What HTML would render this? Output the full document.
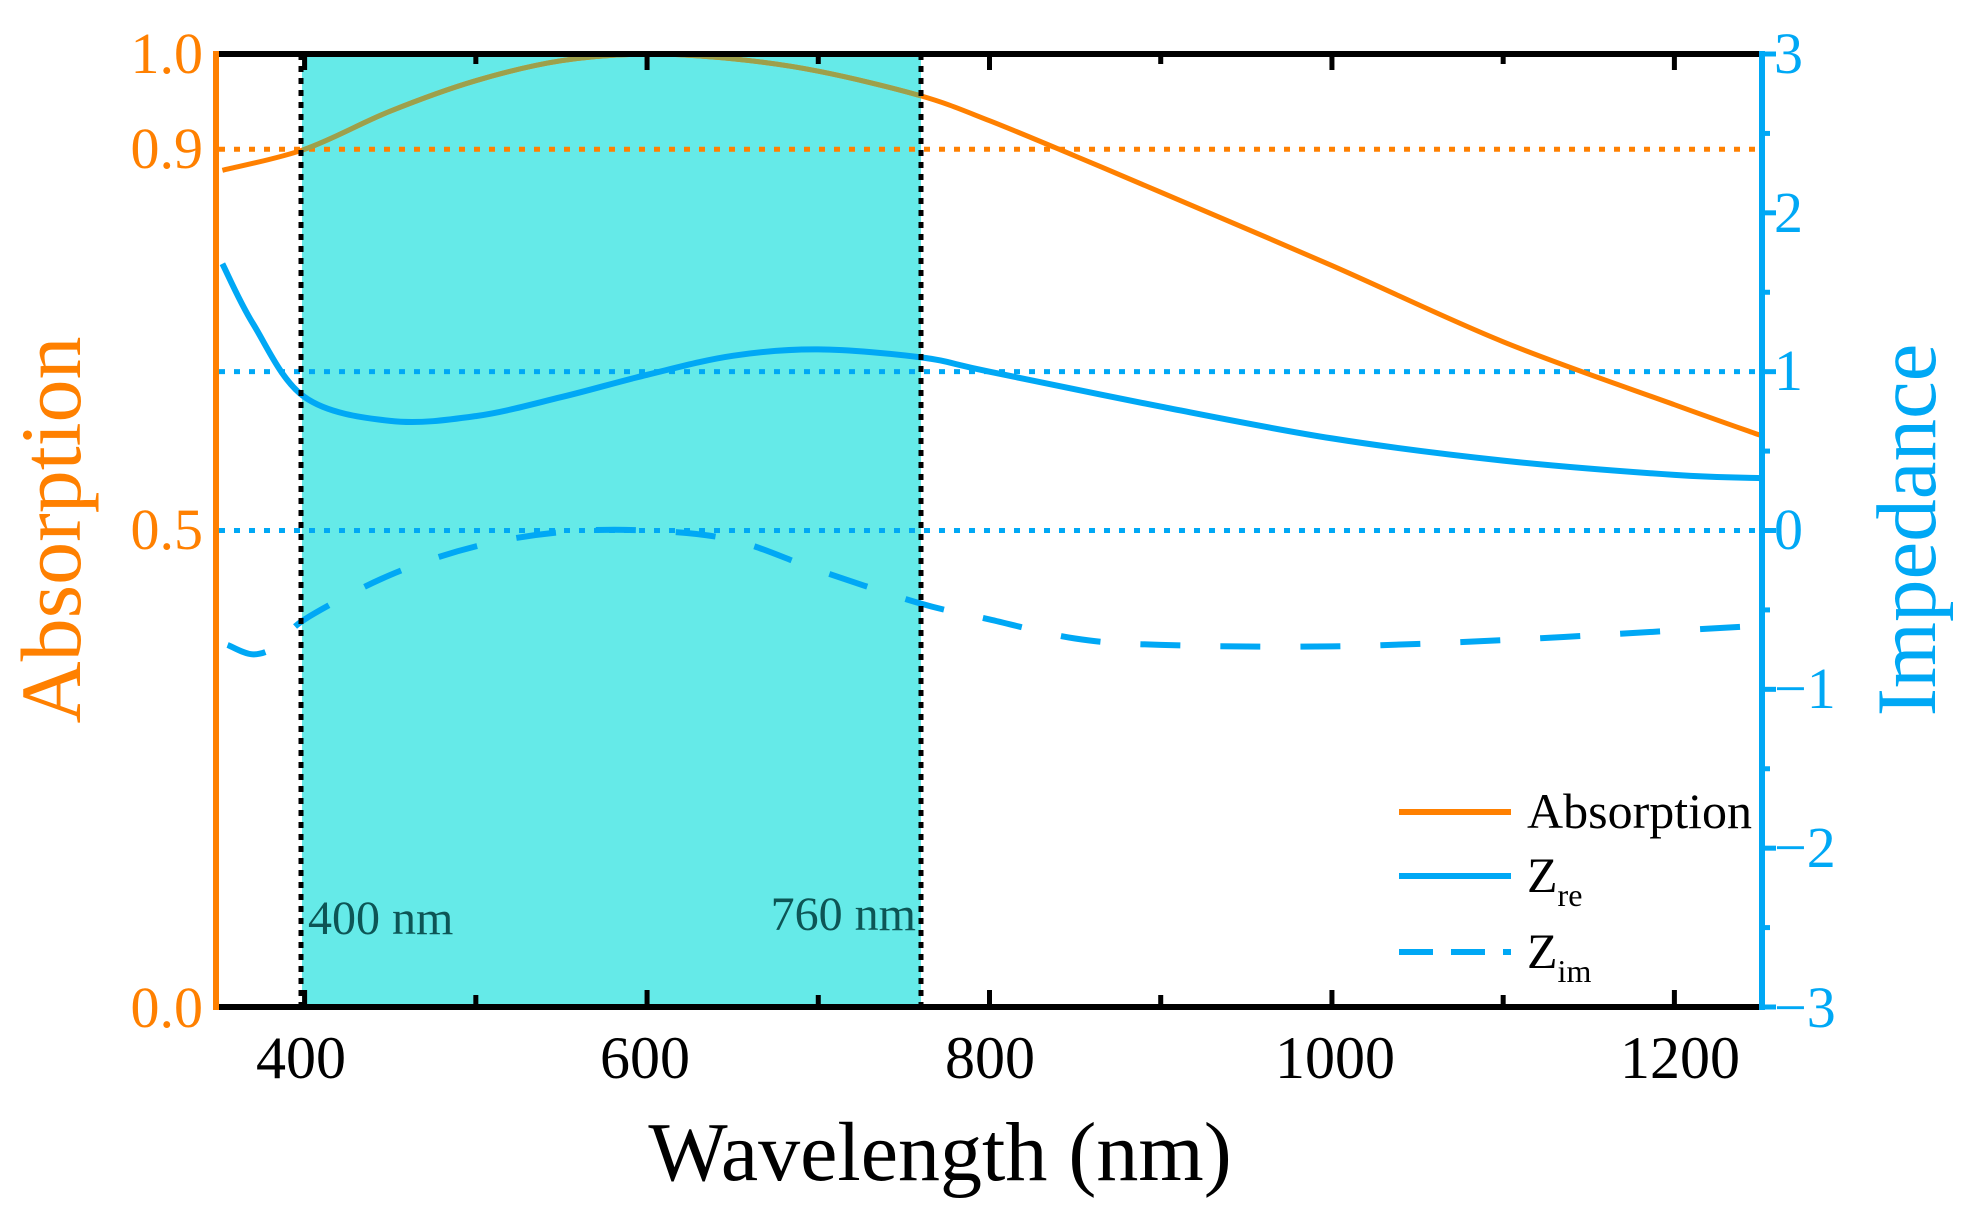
<!DOCTYPE html>
<html><head><meta charset="utf-8"><style>
html,body{margin:0;padding:0;background:#fff}
svg{display:block}
text{font-family:"Liberation Serif",serif}
</style></head><body>
<svg id="s" width="1979" height="1212" viewBox="0 0 1979 1212" xmlns="http://www.w3.org/2000/svg">
<defs><clipPath id="vis"><rect x="302" y="54" width="619" height="953"/></clipPath></defs>
<rect x="302" y="54" width="619" height="953" fill="#65EAE8"/>
<g id="g"></g>
<line x1="301" y1="54" x2="301" y2="1007" stroke="#000" stroke-width="5" stroke-dasharray="6,6"/>
<line x1="921" y1="54" x2="921" y2="1007" stroke="#000" stroke-width="5" stroke-dasharray="6,6"/>
<line x1="216" y1="54" x2="1762" y2="54" stroke="#000" stroke-width="6"/>
<line x1="216" y1="1007" x2="1762" y2="1007" stroke="#000" stroke-width="6"/>
<line x1="216" y1="51" x2="216" y2="1010" stroke="#FF8000" stroke-width="6"/>
<line x1="1762" y1="51" x2="1762" y2="1010" stroke="#00A8F5" stroke-width="6"/>
<g id="ticks"></g>
<g fill="#FF8000" font-size="58" text-anchor="end">
<text x="203" y="73">1.0</text><text x="203" y="168">0.9</text>
<text x="203" y="549">0.5</text><text x="203" y="1027">0.0</text>
</g>
<g fill="#00A8F5" font-size="58" text-anchor="start">
<text x="1774" y="73">3</text><text x="1774" y="232">2</text><text x="1774" y="390">1</text>
<text x="1774" y="549">0</text><text x="1774" y="708">−1</text><text x="1774" y="867">−2</text>
<text x="1774" y="1027">−3</text>
</g>
<g fill="#000" font-size="60" text-anchor="middle">
<text x="301" y="1078">400</text><text x="645" y="1078">600</text><text x="990" y="1078">800</text>
<text x="1335" y="1078">1000</text><text x="1680" y="1078">1200</text>
</g>
<text x="940" y="1180" font-size="84" text-anchor="middle" fill="#000">Wavelength (nm)</text>
<text transform="translate(80,530) rotate(-90)" font-size="86" text-anchor="middle" fill="#FF8000">Absorption</text>
<text transform="translate(1935,530) rotate(-90)" font-size="85" text-anchor="middle" fill="#00A8F5">Impedance</text>
<g fill="#0d5555" font-size="48">
<text x="308" y="934">400 nm</text><text x="916" y="930" text-anchor="end">760 nm</text>
</g>
<line x1="1399" y1="812" x2="1511" y2="812" stroke="#FF8000" stroke-width="6"/>
<line x1="1399" y1="876" x2="1511" y2="876" stroke="#00A8F5" stroke-width="6"/>
<line x1="1399" y1="952" x2="1511" y2="952" stroke="#00A8F5" stroke-width="6" stroke-dasharray="34,18"/>
<g font-size="50" fill="#000">
<text x="1527" y="828">Absorption</text>
<text x="1527" y="892">Z<tspan font-size="32" dy="14">re</tspan></text>
<text x="1527" y="968">Z<tspan font-size="32" dy="14">im</tspan></text>
</g>
</svg>
<script>
const X=w=>219+(w-350)*1541/900;
const YA=a=>1007-a*953;
const YZ=z=>530.5-z*953/6;
function path(pts){
 const p=pts;let d="M"+p[0][0]+","+p[0][1];
 for(let i=0;i<p.length-1;i++){
  const p0=p[i-1]||p[i],p1=p[i],p2=p[i+1],p3=p[i+2]||p2;
  const c1=[p1[0]+(p2[0]-p0[0])/6,p1[1]+(p2[1]-p0[1])/6];
  const c2=[p2[0]-(p3[0]-p1[0])/6,p2[1]-(p3[1]-p1[1])/6];
  d+=" C"+c1+" "+c2+" "+p2;
 }return d;}
const A=[[352,0.878],[400,0.9],[450,0.94],[500,0.972],[550,0.993],[600,1.0],[650,0.995],[700,0.982],[760,0.956],[800,0.93],[850,0.893],[900,0.855],[1000,0.778],[1100,0.698],[1200,0.632],[1250,0.6]];
const Zr=[[352,1.68],[370,1.3],[400,0.84],[450,0.69],[500,0.72],[550,0.84],[600,0.98],[650,1.1],[700,1.14],[760,1.09],[800,1.0],[900,0.78],[1000,0.58],[1100,0.44],[1200,0.35],[1250,0.33]];
const Zi=[[355,-0.72],[370,-0.78],[385,-0.72],[400,-0.56],[450,-0.28],[500,-0.1],[550,-0.01],[600,0.0],[650,-0.06],[700,-0.25],[760,-0.46],[800,-0.56],[850,-0.68],[900,-0.72],[1000,-0.73],[1100,-0.69],[1200,-0.63],[1250,-0.6]];
const f=(arr,Y)=>arr.map(q=>[+X(q[0]).toFixed(1),+Y(q[1]).toFixed(1)]);
const a=f(A,YA),zr=f(Zr,YZ),zi=f(Zi,YZ);
let h="";
h+=`<line x1="219" y1="${YA(0.9)}" x2="1760" y2="${YA(0.9)}" stroke="#FF8000" stroke-width="5" stroke-dasharray="6,9"/>`;
h+=`<line x1="219" y1="${YZ(1)}" x2="1760" y2="${YZ(1)}" stroke="#00A8F5" stroke-width="5" stroke-dasharray="6,9"/>`;
h+=`<line x1="219" y1="${YZ(0)}" x2="1760" y2="${YZ(0)}" stroke="#00A8F5" stroke-width="5" stroke-dasharray="6,9"/>`;
h+=`<path d="${path(a)}" fill="none" stroke="#FF8000" stroke-width="5"/>`;
h+=`<path d="${path(a)}" fill="none" stroke="#9DA04B" stroke-width="5" clip-path="url(#vis)"/>`;
h+=`<path d="${path(zr)}" fill="none" stroke="#00A8F5" stroke-width="6"/>`;
h+=`<path d="${path(zi)}" fill="none" stroke="#00A8F5" stroke-width="6" stroke-dasharray="40,40"/>`;
document.getElementById("g").innerHTML=h;
let t="";
for(let w=400;w<=1200;w+=100){const x=X(w);t+=`<line x1="${x}" y1="1007" x2="${x}" y2="${w%200?995:990}" stroke="#000" stroke-width="5"/><line x1="${x}" y1="54" x2="${x}" y2="${w%200?64:70}" stroke="#000" stroke-width="5"/>`;}
for(let z=-3;z<=3;z+=0.5){const y=YZ(z);t+=`<line x1="1762" y1="${y}" x2="${Number.isInteger(z)?1776:1770}" y2="${y}" stroke="#00A8F5" stroke-width="5"/>`;}
document.getElementById("ticks").innerHTML=t;
</script>
</body></html>
